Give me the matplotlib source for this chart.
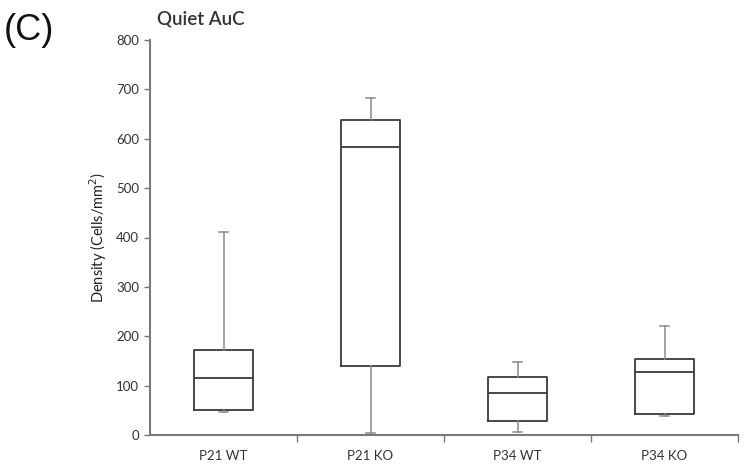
import matplotlib
matplotlib.use("Agg")
import matplotlib.pyplot as plt

# Quiet AuC cell density per group (Cells/mm^2)
groups = ["P21 WT", "P21 KO", "P34 WT", "P34 KO"]
whisker_low = [46, 5, 7, 38]
q1 = [51, 140, 28, 43]
median = [116, 584, 86, 128]
q3 = [173, 638, 117, 153]
whisker_high = [411, 683, 148, 220]

stats = []
for i, name in enumerate(groups):
    stats.append({
        "label": name,
        "whislo": whisker_low[i],
        "q1": q1[i],
        "med": median[i],
        "q3": q3[i],
        "whishi": whisker_high[i],
        "fliers": [],
    })

plt.rcParams["font.family"] = ["Lato", "DejaVu Sans"]

fig = plt.figure(figsize=(7.48, 4.71), dpi=100)
ax = fig.add_axes([150 / 748, 1 - 435 / 471, 588 / 748, 395 / 471])

box_col = "#3a3a3a"
whisk_col = "#8a8a8a"
positions = [1, 2, 3, 4]
ax.bxp(stats, positions=positions, widths=0.4, showfliers=False,
       boxprops=dict(color=box_col, linewidth=1.3),
       medianprops=dict(color=box_col, linewidth=1.3),
       whiskerprops=dict(color=whisk_col, linewidth=1.1),
       capprops=dict(color=whisk_col, linewidth=1.1),
       capwidths=0.06)

ax.set_xlim(0.5, 4.5)
ax.set_ylim(0, 800)
ax.set_yticks(range(0, 801, 100))

# category labels centred, tick marks on the boundaries
ax.set_xticks(positions)
ax.set_xticklabels(groups, fontsize=9.5, color="#333333")
ax.tick_params(axis="x", length=0, pad=11)
ax.set_xticks([1.5, 2.5, 3.5, 4.5], minor=True)
ax.tick_params(axis="x", which="minor", length=5, color="#777777", width=1)
ax.tick_params(axis="y", length=4, color="#777777", width=1,
               labelsize=9.5, labelcolor="#333333", pad=4)

for side in ["top", "right"]:
    ax.spines[side].set_visible(False)
for side in ["left", "bottom"]:
    ax.spines[side].set_color("#7a7a7a")
    ax.spines[side].set_linewidth(1.5)

ax.set_ylabel("Density (Cells/mm$^2$)", fontsize=10.5, color="#222222", labelpad=5)

fig.text(157 / 748, 1 - 19 / 471, "Quiet AuC", fontsize=13.5, fontweight="semibold",
         color="#333333", va="center", ha="left")
fig.text(4 / 748, 1 - 30 / 471, "(C)", fontsize=26, family="Liberation Sans",
         color="#111111", va="center", ha="left")

fig.savefig("out.png", dpi=100)
